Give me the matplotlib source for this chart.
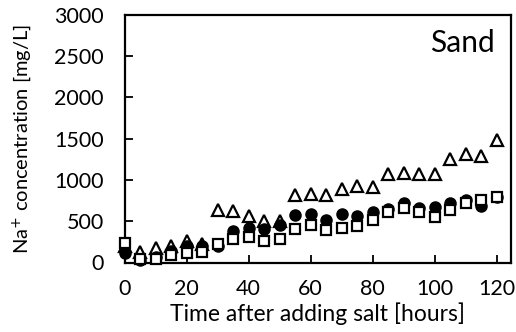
import matplotlib
matplotlib.use("Agg")
import matplotlib.pyplot as plt

hours = [0, 5, 10, 15, 20, 25, 30, 35, 40, 45, 50, 55, 60, 65, 70, 75, 80, 85, 90, 95, 100, 105, 110, 115, 120]
triangles = [200, 130, 180, 200, 257, 230, 640, 630, 560, 500, 500, 820, 828, 820, 888, 928, 912, 1072, 1080, 1072, 1068, 1250, 1313, 1290, 1482]
circles = [110, 30, 70, 135, 200, 205, 205, 377, 418, 405, 455, 580, 587, 518, 590, 558, 618, 647, 720, 660, 667, 720, 760, 687, 792]
squares = [235, 40, 40, 85, 120, 125, 230, 285, 310, 257, 285, 405, 458, 398, 418, 446, 518, 618, 660, 618, 550, 640, 727, 760, 800]

xticks = [0, 20, 40, 60, 80, 100, 120]
yticks = [0, 500, 1000, 1500, 2000, 2500, 3000]

plt.rcParams['font.family'] = ['Lato', 'DejaVu Sans']

fig = plt.figure(figsize=(5.16, 3.32), dpi=100)
ax = fig.add_axes([124.5/516, 1 - 262.5/332, (510.5 - 124.5)/516, (262.5 - 15)/332])

ax.plot(hours, triangles, linestyle='none', marker='^', markersize=8, markerfacecolor='white',
        markeredgecolor='black', markeredgewidth=1.6, clip_on=False, zorder=3)
ax.plot(hours, circles, linestyle='none', marker='o', markersize=8, markerfacecolor='black',
        markeredgecolor='black', clip_on=False, zorder=4)
ax.plot(hours, squares, linestyle='none', marker='s', markersize=7.5, markerfacecolor='white',
        markeredgecolor='black', markeredgewidth=1.6, clip_on=False, zorder=5)

ax.set_xlim(0, 124.5)
ax.set_ylim(0, 3000)
ax.set_xticks(xticks)
ax.set_yticks(yticks)
ax.tick_params(direction='in', length=5.5, width=1.3, labelsize=15.5, top=False, right=False)
ax.tick_params(axis='x', pad=12)
ax.tick_params(axis='y', pad=15)
for s in ax.spines.values():
    s.set_linewidth(1.6)

ax.set_xlabel('Time after adding salt [hours]', fontsize=16.5, va='center')
ax.xaxis.set_label_coords(0.5, (262.5 - 314) / 247.5)
ax.set_ylabel('Na$^{+}$ concentration [mg/L]', fontsize=14.5, va='center')
ax.yaxis.set_label_coords((22 - 124.5) / 386, 0.5)

ax.text(0.96, 0.885, 'Sand', transform=ax.transAxes, ha='right', va='center', fontsize=21.5)

fig.savefig('out.png', dpi=100)
